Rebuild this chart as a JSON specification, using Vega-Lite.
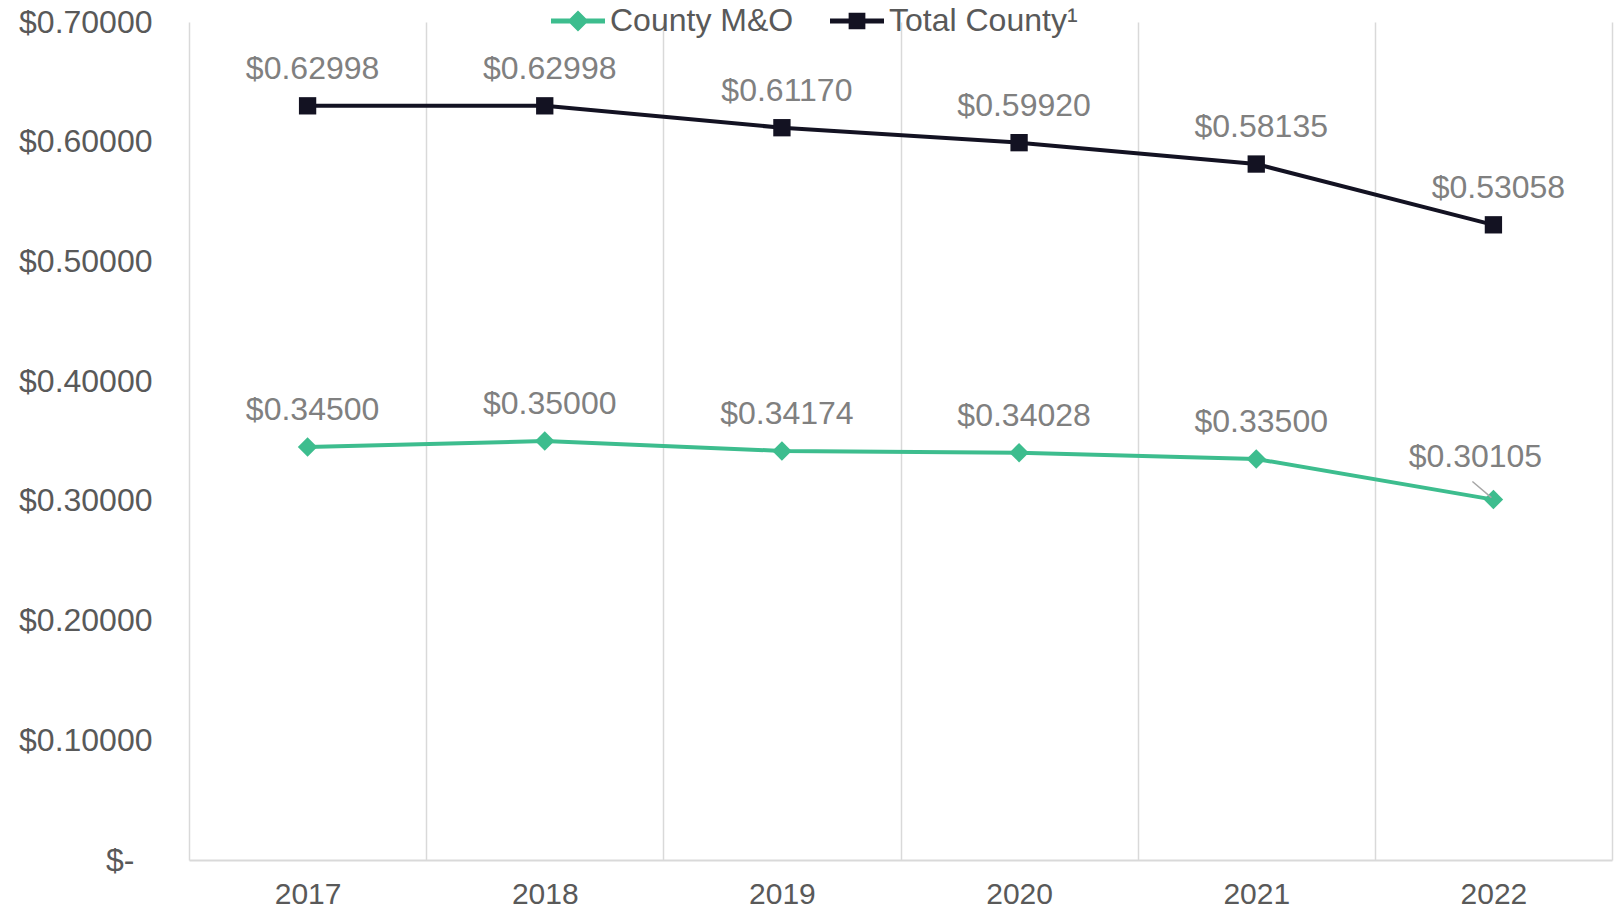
{
  "$schema": "https://vega.github.io/schema/vega-lite/v6.json",
  "width": 1423,
  "height": 838,
  "autosize": {"type": "none"},
  "padding": {"left": 189, "top": 22, "right": 10, "bottom": 50},
  "background": "white",
  "config": {"view": {"stroke": null}, "font": "Liberation Sans"},
  "data": {
    "values": [
      {"year": "2017", "series": "County M&O", "value": 0.345},
      {"year": "2018", "series": "County M&O", "value": 0.35},
      {"year": "2019", "series": "County M&O", "value": 0.34174},
      {"year": "2020", "series": "County M&O", "value": 0.34028},
      {"year": "2021", "series": "County M&O", "value": 0.335},
      {"year": "2022", "series": "County M&O", "value": 0.30105},
      {"year": "2017", "series": "Total County¹", "value": 0.62998},
      {"year": "2018", "series": "Total County¹", "value": 0.62998},
      {"year": "2019", "series": "Total County¹", "value": 0.6117},
      {"year": "2020", "series": "Total County¹", "value": 0.5992},
      {"year": "2021", "series": "Total County¹", "value": 0.58135},
      {"year": "2022", "series": "Total County¹", "value": 0.53058}
    ]
  },
  "encoding": {
    "x": {
      "field": "year",
      "type": "ordinal",
      "bandPosition": 0.5,
      "scale": {"type": "band", "paddingInner": 0, "paddingOuter": 0},
      "axis": {
        "title": null,
        "labelAngle": 0,
        "labelFontSize": 30,
        "labelColor": "#595959",
        "labelBaseline": "middle",
        "labelPadding": 34,
        "ticks": false,
        "grid": true,
        "gridColor": "#d9d9d9",
        "gridWidth": 1.5,
        "tickBand": "extent",
        "domainColor": "#d9d9d9",
        "domainWidth": 2
      }
    },
    "y": {
      "field": "value",
      "type": "quantitative",
      "scale": {"domain": [0, 0.7], "nice": false},
      "axis": {
        "title": null,
        "domain": false,
        "ticks": false,
        "grid": false,
        "values": [0, 0.1, 0.2, 0.3, 0.4, 0.5, 0.6, 0.7],
        "labelExpr": "datum.value == 0 ? '$-' : '$' + format(datum.value, '.5f')",
        "labelFontSize": 32,
        "labelColor": "#595959",
        "labelPadding": {"condition": {"test": "datum.value == 0", "value": 55}, "value": 37}
      }
    }
  },
  "layer": [
    {
      "mark": {"type": "line", "strokeWidth": 4},
      "encoding": {
        "color": {
          "field": "series",
          "type": "nominal",
          "scale": {"domain": ["County M&O", "Total County¹"], "range": ["#3dbd8e", "#131222"]},
          "legend": {
            "title": null,
            "orient": "none",
            "direction": "horizontal",
            "legendX": 362,
            "legendY": -28,
            "symbolSize": 2916,
            "labelFontSize": 32,
            "labelLimit": 500,
            "labelColor": "#595959",
            "labelOffset": 5,
            "columnPadding": 36,
            "encode": {
              "symbols": {
                "update": {
                  "shape": {"signal": "datum.value === 'County M&O' ? 'M-1,-0.09H1V0.09H-1Z M0,-0.39L0.39,0L0,0.39L-0.39,0Z' : 'M-1,-0.09H1V0.09H-1Z M-0.31,-0.31H0.31V0.31H-0.31Z'"},
                  "size": {"value": 2916},
                  "fill": {"scale": "color", "field": "value"},
                  "fillOpacity": {"value": 1},
                  "strokeWidth": {"value": 0},
                  "opacity": {"value": 1}
                }
              }
            }
          }
        }
      }
    },
    {
      "transform": [{"filter": "datum.series == 'County M&O'"}],
      "mark": {"type": "point", "filled": true, "opacity": 1, "size": 380, "shape": "diamond", "color": "#3dbd8e"}
    },
    {
      "transform": [{"filter": "datum.series == 'Total County¹'"}],
      "mark": {"type": "point", "filled": true, "opacity": 1, "size": 300, "shape": "square", "color": "#131222"}
    },
    {
      "transform": [{"filter": "!(datum.year == '2022' && datum.series == 'County M&O')"}],
      "mark": {"type": "text", "fontSize": 32, "color": "#808080", "dx": 5, "dy": -37, "baseline": "middle", "align": "center"},
      "encoding": {"text": {"field": "value", "type": "quantitative", "format": "$.5f"}}
    },
    {
      "transform": [{"filter": "datum.year == '2022' && datum.series == 'County M&O'"}],
      "mark": {"type": "text", "fontSize": 32, "color": "#808080", "dx": -18, "dy": -43, "baseline": "middle", "align": "center"},
      "encoding": {"text": {"field": "value", "type": "quantitative", "format": "$.5f"}}
    },
    {
      "transform": [{"filter": "datum.year == '2022' && datum.series == 'County M&O'"}],
      "mark": {"type": "point", "filled": false, "shape": "M-1,-0.85L1,0.85", "size": 361, "stroke": "#a6a6a6", "strokeWidth": 1.5, "opacity": 1, "xOffset": -11.5, "yOffset": -10}
    }
  ]
}
